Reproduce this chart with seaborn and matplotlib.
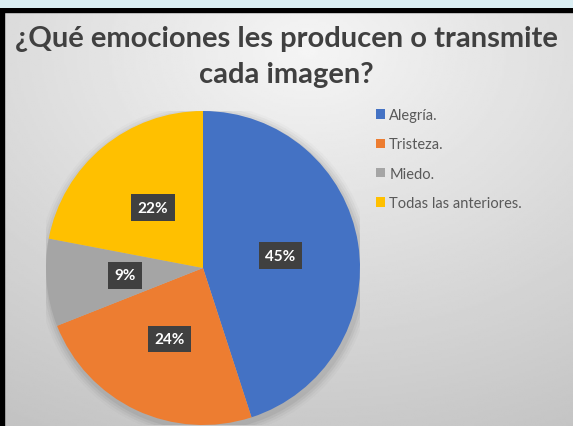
import numpy as np
import seaborn as sns
import matplotlib.pyplot as plt
from matplotlib.patches import Rectangle, Circle

# Data
categorias = ['Alegría.', 'Tristeza.', 'Miedo.', 'Todas las anteriores.']
porcentajes = [45, 24, 9, 22]
colores = ['#4472C4', '#ED7D31', '#A5A5A5', '#FFC000']
titulo = '¿Qué emociones les producen o transmite\ncada imagen?'

sns.set_theme(style='white')
plt.rcParams['font.family'] = ['Lato', 'DejaVu Sans']

W, H = 573, 427
fig = plt.figure(figsize=(W / 100, H / 100), dpi=100)
fig.patch.set_facecolor('#DAEEF3')

# background panel with soft gradient
bg = fig.add_axes([0, 0, 1, (H - 9) / H])
yy, xx = np.mgrid[0:200, 0:280]
d = np.sqrt(((xx - 150) / 280) ** 2 + ((yy - 20) / 200) ** 2)
shade = 0.96 - 0.19 * np.clip(d, 0, 1.2)
bg.imshow(shade, cmap='gray', vmin=0, vmax=1, aspect='auto', extent=[0, 1, 0, 1], origin='upper')
bg.set_xticks([])
bg.set_yticks([])
for s in bg.spines.values():
    s.set_visible(False)
bg.add_patch(Rectangle((0, 0), 4 / W, 1, transform=bg.transAxes, color='black'))
bg.add_patch(Rectangle((0, 1 - 4 / (H - 9)), 1, 4 / (H - 9), transform=bg.transAxes, color='black'))

# pie
cx, cy, r = 203, 269, 157
ax = fig.add_axes([(cx - r) / W, (H - cy - r) / H, 2 * r / W, 2 * r / H])
for k, a in enumerate([0.05, 0.04, 0.03, 0.02]):
    ax.add_patch(Circle((0.01, -0.02), 1.0 + 0.015 * (k + 1), color='black', alpha=a, lw=0, zorder=0))
wedges, _, autotexts = ax.pie(porcentajes, colors=colores, startangle=90, counterclock=False,
                              radius=1.0, autopct='%d%%', pctdistance=0.5,
                              wedgeprops=dict(linewidth=0))
ax.set_xlim(-1, 1)
ax.set_ylim(-1, 1)
ax.axis('off')
for t in autotexts:
    t.set_color('white')
    t.set_fontweight('bold')
    t.set_fontsize(11)
    t.set_bbox(dict(boxstyle='square,pad=0.42', facecolor='#404040', edgecolor='none'))

fig.text(0.5, (H - 57) / H, titulo, ha='center', va='center', fontsize=21, fontweight='bold',
         color='#404040', linespacing=1.45)

leg = fig.legend(wedges, categorias, loc='upper left', bbox_to_anchor=(363 / W, 1 - 96 / H),
                 frameon=False, fontsize=10.5, labelcolor='#595959', handlelength=0.6, handleheight=0.6,
                 handletextpad=0.3, labelspacing=1.05)

fig.savefig('out.png', dpi=100, facecolor=fig.get_facecolor())
